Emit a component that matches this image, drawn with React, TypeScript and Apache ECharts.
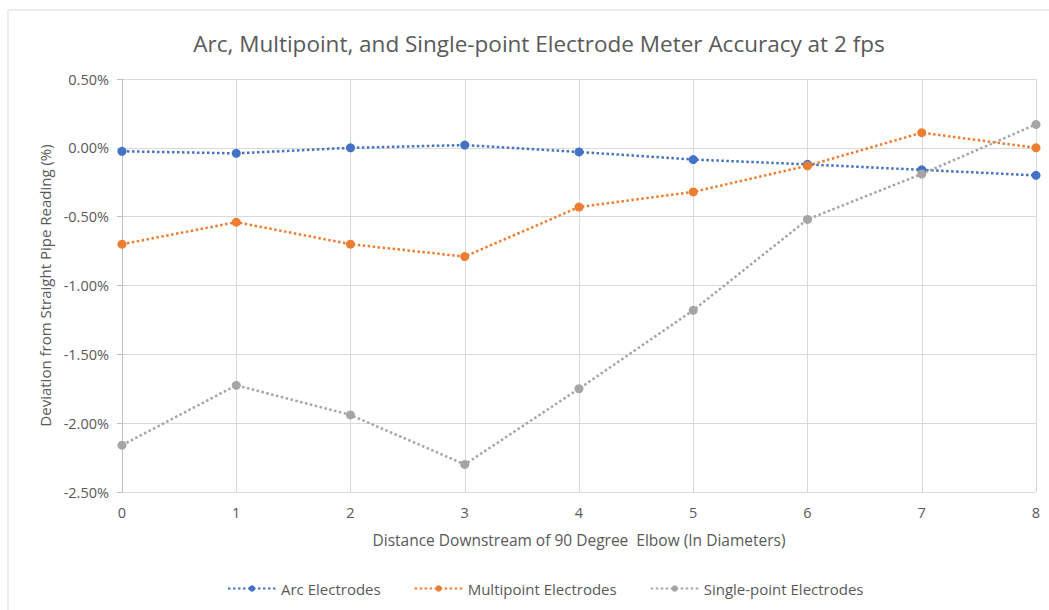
import React, { useEffect, useRef } from "react";
import * as echarts from "echarts";

// Distance downstream of the elbow, in pipe diameters
const distances = ["0", "1", "2", "3", "4", "5", "6", "7", "8"];

// Deviation from the straight-pipe reading, in percent
const arcElectrodes = [-0.025, -0.04, 0.0, 0.02, -0.03, -0.085, -0.12, -0.16, -0.2];
const multipointElectrodes = [-0.7, -0.54, -0.7, -0.79, -0.43, -0.32, -0.13, 0.11, 0.0];
const singlePointElectrodes = [-2.16, -1.725, -1.94, -2.3, -1.75, -1.18, -0.52, -0.19, 0.17];

const seriesNames = ["Arc Electrodes", "Multipoint Electrodes", "Single-point Electrodes"];
const seriesColors = ["#4472C4", "#ED7D31", "#A5A5A5"];

const FONT = "'Open Sans', 'Noto Sans', sans-serif";
const TEXT = "#595959";

export default function App() {
  const ref = useRef<HTMLDivElement>(null);

  useEffect(() => {
    if (!ref.current) return;
    const chart = echarts.init(ref.current, undefined, { renderer: "svg" });

    const makeSeries = (name: string, data: number[], color: string) => ({
      name,
      type: "line",
      data,
      symbol: "circle",
      symbolSize: 9,
      itemStyle: { color },
      lineStyle: { color, width: 2.5, type: [2.5, 2.5], cap: "butt" },
      emphasis: { disabled: true },
    });

    chart.setOption({
      animation: false,
      backgroundColor: "#ffffff",
      textStyle: { fontFamily: FONT },
      graphic: [
        {
          type: "rect",
          shape: { x: 8, y: 10, width: 1100, height: 700 },
          style: { fill: "none", stroke: "#d9d9d9", lineWidth: 1 },
          silent: true,
          z: -1,
        },
      ],
      title: {
        text: "Arc, Multipoint, and Single-point Electrode Meter Accuracy at 2 fps",
        left: 534,
        textAlign: "center",
        top: 27,
        textStyle: { fontFamily: FONT, fontSize: 22.5, fontWeight: "normal", color: TEXT },
      },
      grid: { left: 122, right: 13, top: 79, bottom: 118 },
      legend: {
        bottom: 9,
        left: 222,
        itemWidth: 48,
        itemHeight: 8,
        itemGap: 33,
        data: seriesNames,
        textStyle: { fontFamily: FONT, fontSize: 15, color: TEXT },
      },
      xAxis: {
        type: "category",
        data: distances,
        boundaryGap: false,
        name: "Distance Downstream of 90 Degree  Elbow (In Diameters)",
        nameLocation: "middle",
        nameGap: 40,
        nameTextStyle: { fontFamily: FONT, fontSize: 15.5, color: TEXT },
        axisLine: { lineStyle: { color: "#d9d9d9" } },
        axisTick: { show: false },
        axisLabel: { fontFamily: FONT, fontSize: 14.5, color: TEXT, margin: 13 },
        splitLine: { show: true, lineStyle: { color: "#d9d9d9" } },
      },
      yAxis: {
        type: "value",
        min: -2.5,
        max: 0.5,
        interval: 0.5,
        name: "Deviation from Straight Pipe Reading (%)",
        nameLocation: "middle",
        nameGap: 68,
        nameTextStyle: { fontFamily: FONT, fontSize: 15, color: TEXT },
        axisLine: { show: true, lineStyle: { color: "#bfbfbf" } },
        axisTick: { show: true, length: 5, lineStyle: { color: "#bfbfbf" } },
        axisLabel: {
          fontFamily: FONT,
          fontSize: 14.5,
          color: TEXT,
          margin: 13,
          formatter: (v: number) => v.toFixed(2) + "%",
        },
        splitLine: { show: true, lineStyle: { color: "#d9d9d9" } },
      },
      series: [
        makeSeries(seriesNames[0], arcElectrodes, seriesColors[0]),
        makeSeries(seriesNames[1], multipointElectrodes, seriesColors[1]),
        makeSeries(seriesNames[2], singlePointElectrodes, seriesColors[2]),
      ],
    });

    return () => chart.dispose();
  }, []);

  return (
    <div
      ref={ref}
      style={{ position: "fixed", left: 0, top: 0, width: 1049, height: 610 }}
    />
  );
}
